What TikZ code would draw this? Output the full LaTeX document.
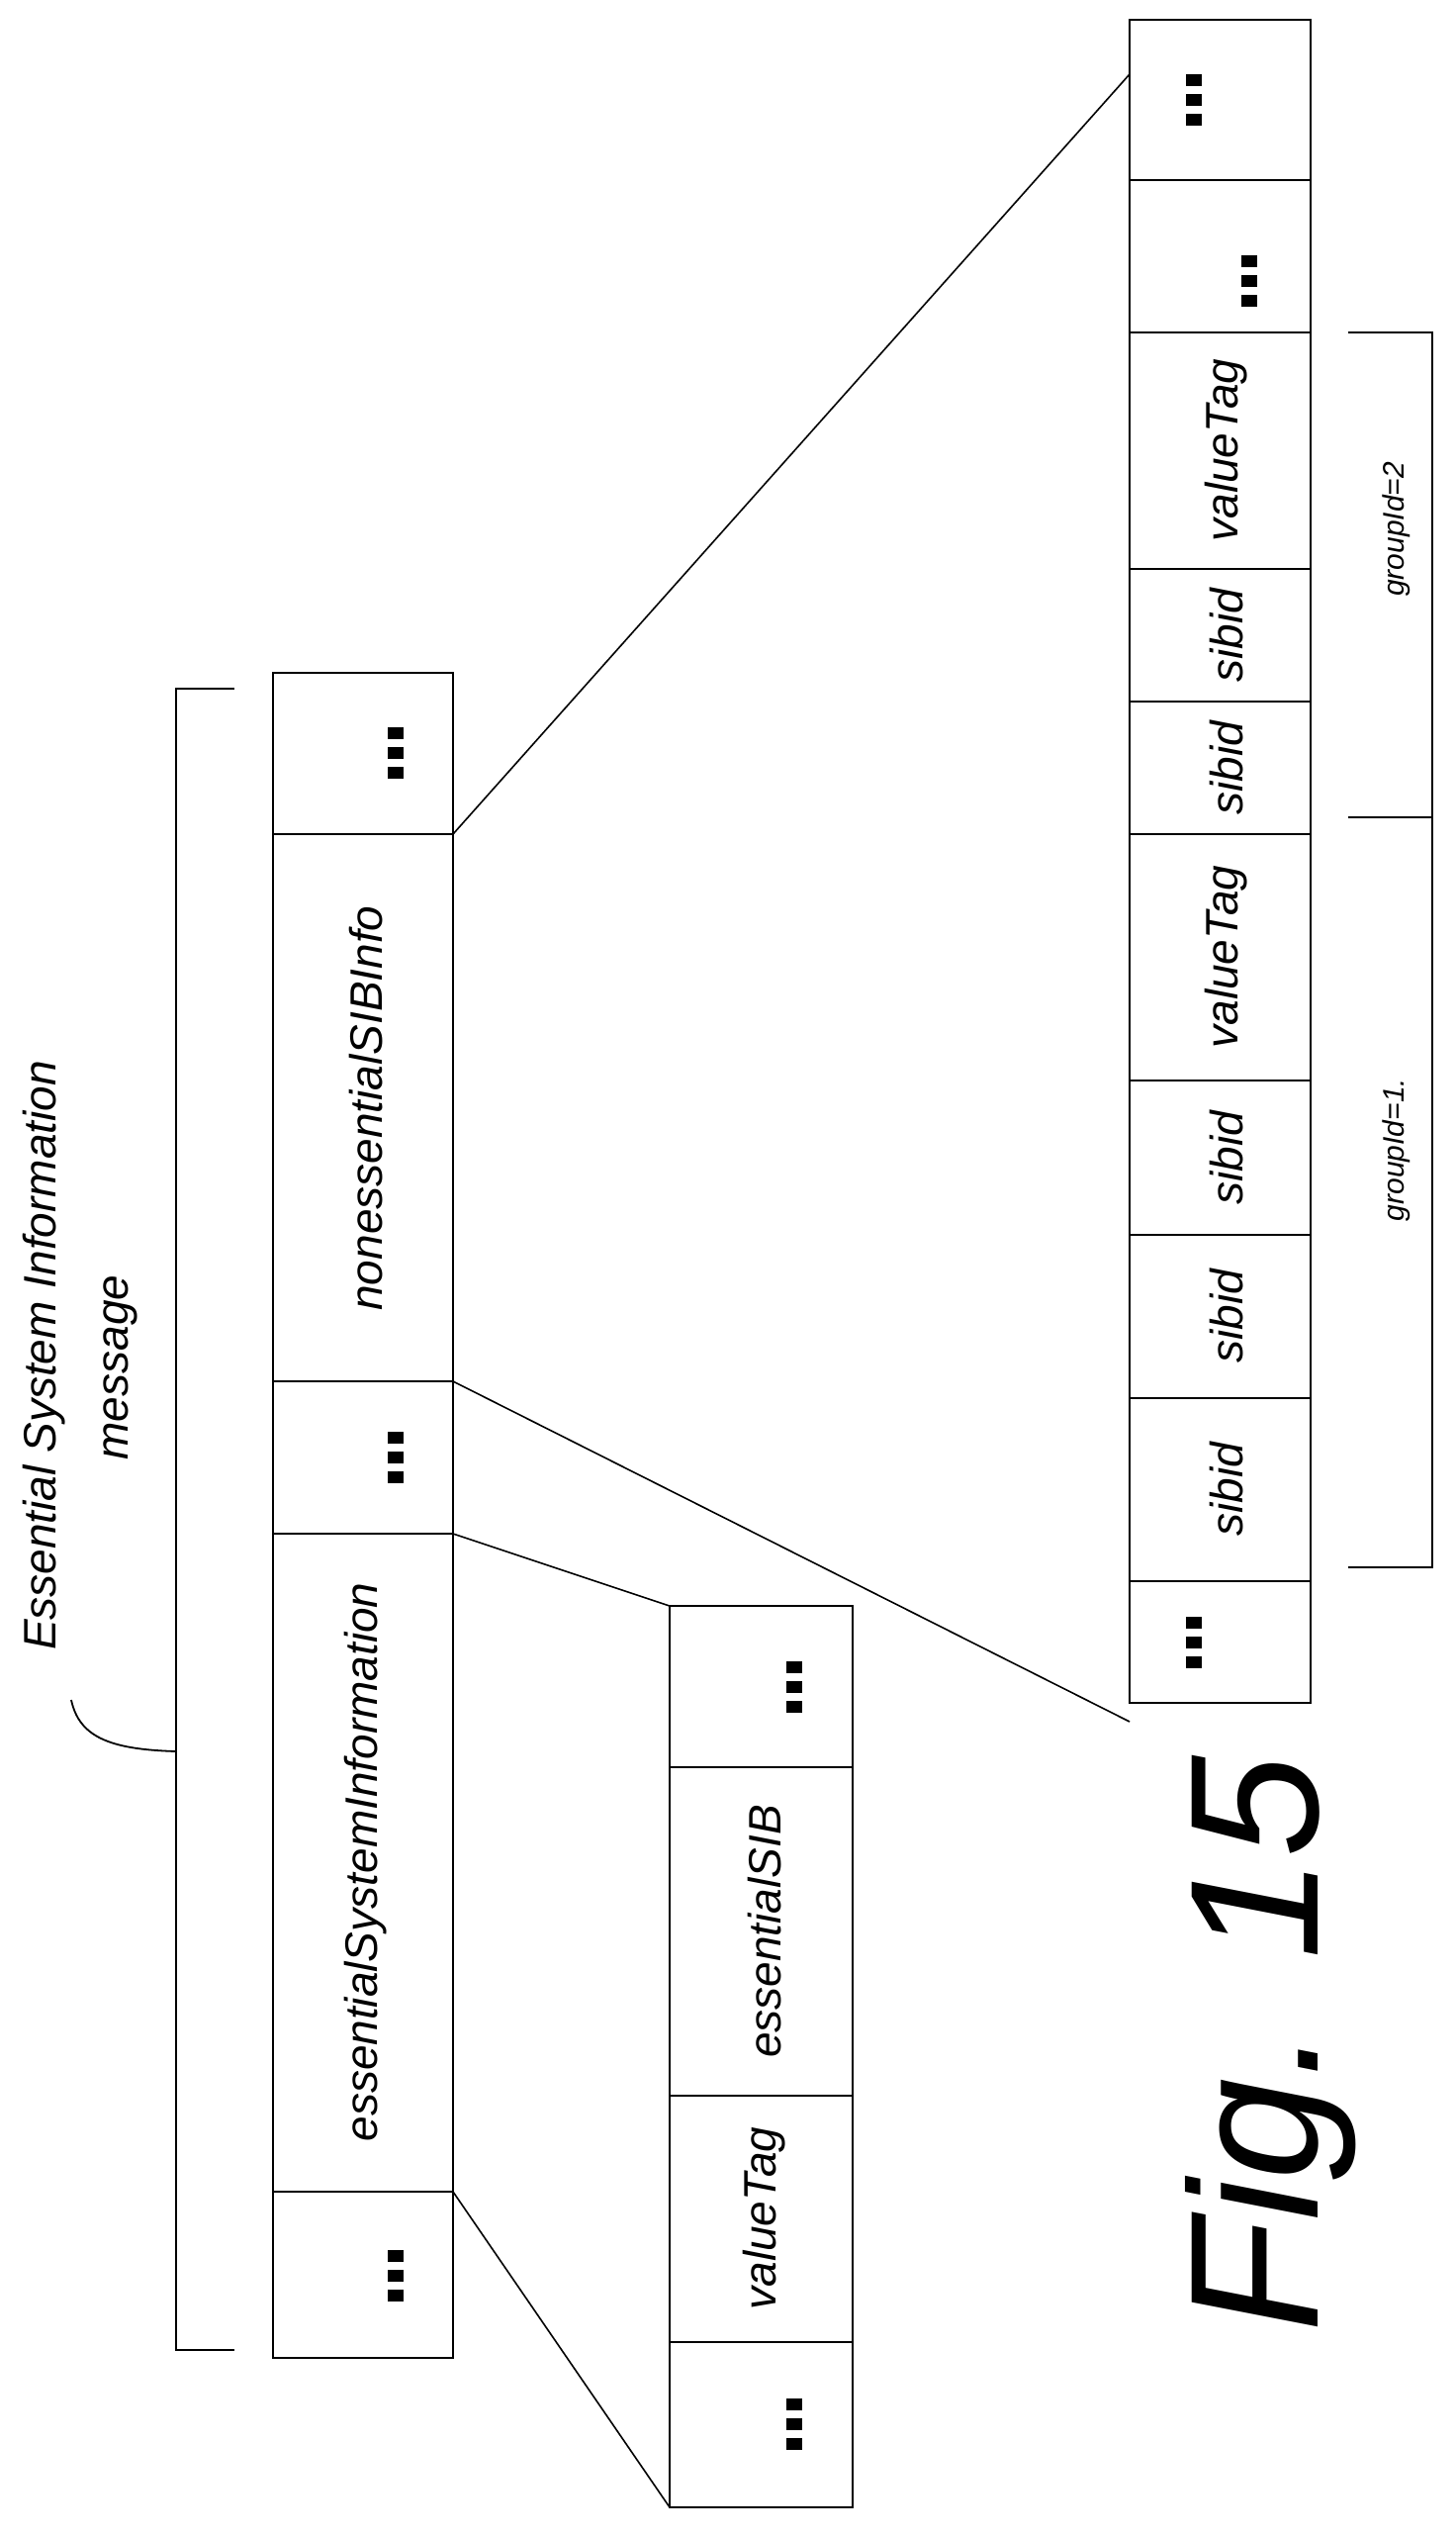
\documentclass[tikz,border=0pt]{standalone}
\usepackage{fontspec}
\setmainfont{Liberation Sans}
\begin{document}
\begin{tikzpicture}[x=1pt,y=-1pt,line width=2.5pt,
  lbl/.style={rotate=90,inner sep=0pt,font=\fontsize{46}{50}\selectfont\itshape},
  sm/.style={rotate=90,inner sep=0pt,font=\fontsize{30}{34}\selectfont\itshape},
  dots/.pic={\foreach \d in {-20,0,20}{\fill (-8,\d-6) rectangle (8,\d+6);}}]
\useasboundingbox (0,0) rectangle (1472,2564);
% main bar
\draw (276,680) rectangle (458,2383);
\foreach \y in {843,1396,1550,2215} \draw (276,\y) -- (458,\y);
\pic at (400,761) {dots};
\node[lbl] (nes) at (370,1120) {nonessentialSIBInfo};
\pic at (400,1473) {dots};
\node[lbl] (esi) at (370,1882) {essentialSystemInformation};
\pic at (400,2300) {dots};
\coordinate (m1) at (458,843); \coordinate (m2) at (458,1396);
\coordinate (m3) at (458,1550); \coordinate (m4) at (458,2215);
% bracket and label
\draw (237,696) -- (178,696) -- (178,2375) -- (237,2375);
\coordinate (br) at (178,1770);
\coordinate (lt) at (72,1718);
\draw[line width=1.8pt] (br) .. controls (110,1768) and (80,1755) .. (lt);
\node[lbl] (l1) at (45,1370) {Essential System Information};
\node[lbl] (l2) at (122,1382) {message};
% lower bar
\draw (677,1623) rectangle (862,2534);
\foreach \y in {1786,2118,2367} \draw (677,\y) -- (862,\y);
\pic at (803,1705) {dots};
\node[lbl] (eb) at (773,1952) {essentialSIB};
\node[lbl] (vt0) at (773,2242) {valueTag};
\pic at (803,2450) {dots};
\coordinate (b1) at (677,1623); \coordinate (b2) at (677,2534);
\draw[line width=1.6pt] (m3) -- (b1);
\draw[line width=1.6pt] (m4) -- (b2);
% right bar
\draw (1142,20) rectangle (1325,1721);
\foreach \y in {182,336,575,709,843,1092,1248,1413,1598} \draw (1142,\y) -- (1325,\y);
\pic at (1207,101) {dots};
\pic at (1263,284) {dots};
\node[lbl] (v2) at (1240,455) {valueTag};
\node[lbl] (s4) at (1240,642) {sibid};
\node[lbl] (s3) at (1240,776) {sibid};
\node[lbl] (v1) at (1240,967) {valueTag};
\node[lbl] (s2) at (1240,1170) {sibid};
\node[lbl] (s1a) at (1240,1330) {sibid};
\node[lbl] (s1) at (1240,1505) {sibid};
\pic at (1207,1660) {dots};
\coordinate (r1) at (1142,75); \coordinate (r2) at (1142,1740);
\draw[line width=1.6pt] (m1) -- (r1);
\draw[line width=1.6pt] (m2) -- (r2);
% group bracket
\draw (1363,336) -- (1448,336) -- (1448,1584) -- (1363,1584);
\draw (1363,826) -- (1448,826);
\node[sm] (g2) at (1412,535) {groupId=2};
\node[sm] (g1) at (1412,1162) {groupId=1.};
% fig
\node[rotate=90,inner sep=0pt,font=\fontsize{185}{200}\selectfont\itshape] (fig) at (1285,2066) {Fig. 15};
\end{tikzpicture}
\end{document}
